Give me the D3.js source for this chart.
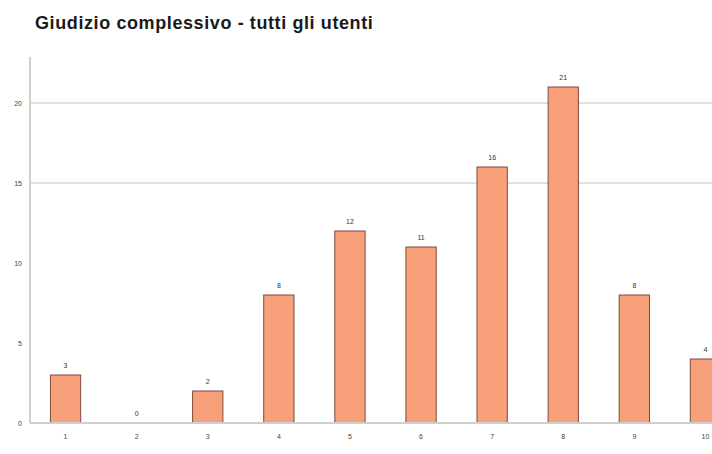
<!DOCTYPE html>
<html>
<head>
<meta charset="utf-8">
<script src="https://cdn.jsdelivr.net/npm/d3@7"></script>
<style>
  html, body { margin: 0; padding: 0; background: #fff; overflow: hidden; }
  svg { display: block; }
</style>
</head>
<body>
<svg id="chart" width="712" height="454"></svg>
<script>
// Overall rating: number of users per score (1–10)
const categories = ["1", "2", "3", "4", "5", "6", "7", "8", "9", "10"];
const counts = [3, 0, 2, 8, 12, 11, 16, 21, 8, 4];
const yTicks = [0, 5, 10, 15, 20];
const gridTicks = [15, 20];
const title = "Giudizio complessivo - tutti gli utenti";

const svg = d3.select("#chart");
const axisX = 30;
const baseY = 423;

const x = d3.scaleBand()
  .domain(categories)
  .range([axisX, axisX + 711])
  .paddingInner(0.56)
  .paddingOuter(0.28);

const y = d3.scaleLinear()
  .domain([0, 20])
  .range([baseY, 103]);

// Title
svg.append("text")
  .attr("x", 35)
  .attr("y", 29)
  .attr("font-family", "Liberation Sans, Arial, sans-serif")
  .attr("font-weight", "bold")
  .attr("font-size", 18)
  .attr("letter-spacing", 0.6)
  .attr("fill", "#1a1a1a")
  .text(title);

// Horizontal gridlines
svg.append("g")
  .selectAll("line")
  .data(gridTicks)
  .join("line")
  .attr("x1", axisX)
  .attr("x2", 712)
  .attr("y1", d => y(d))
  .attr("y2", d => y(d))
  .attr("stroke", "#d8d8d8")
  .attr("stroke-width", 1.5);

// Bars
svg.append("g")
  .selectAll("rect")
  .data(counts)
  .join("rect")
  .attr("x", (d, i) => x(categories[i]) + 0.5)
  .attr("y", d => y(d))
  .attr("width", x.bandwidth() - 1)
  .attr("height", d => y(0) - y(d))
  .attr("fill", "#f7a07a")
  .attr("stroke", "#7d4a3a")
  .attr("stroke-width", 1);

// Value labels above bars
svg.append("g")
  .selectAll("text")
  .data(counts)
  .join("text")
  .attr("x", (d, i) => x(categories[i]) + x.bandwidth() / 2)
  .attr("y", d => y(d) - 7)
  .attr("text-anchor", "middle")
  .attr("font-family", "Liberation Sans, Arial, sans-serif")
  .attr("font-size", 7)
  .attr("fill", "#333")
  .text(d => d);

// Y axis
const yAxis = d3.axisLeft(y).tickValues(yTicks).tickSize(0).tickPadding(8);
const gy = svg.append("g").attr("transform", `translate(${axisX},0)`).call(yAxis);
gy.select(".domain").remove();
gy.selectAll("text")
  .attr("font-family", "Liberation Sans, Arial, sans-serif")
  .attr("font-size", 7)
  .attr("fill", "#444");
svg.append("line")
  .attr("x1", axisX).attr("x2", axisX)
  .attr("y1", 57).attr("y2", baseY)
  .attr("stroke", "#cfcfcf")
  .attr("stroke-width", 2);

// X axis
const xAxis = d3.axisBottom(x).tickSize(0).tickPadding(11);
const gx = svg.append("g").attr("transform", `translate(0,${baseY})`).call(xAxis);
gx.select(".domain").remove();
gx.selectAll("text")
  .attr("font-family", "Liberation Sans, Arial, sans-serif")
  .attr("font-size", 7)
  .attr("fill", "#444");
svg.append("line")
  .attr("x1", axisX).attr("x2", 712)
  .attr("y1", baseY).attr("y2", baseY)
  .attr("stroke", "#cfcfcf")
  .attr("stroke-width", 2);
</script>
</body>
</html>
